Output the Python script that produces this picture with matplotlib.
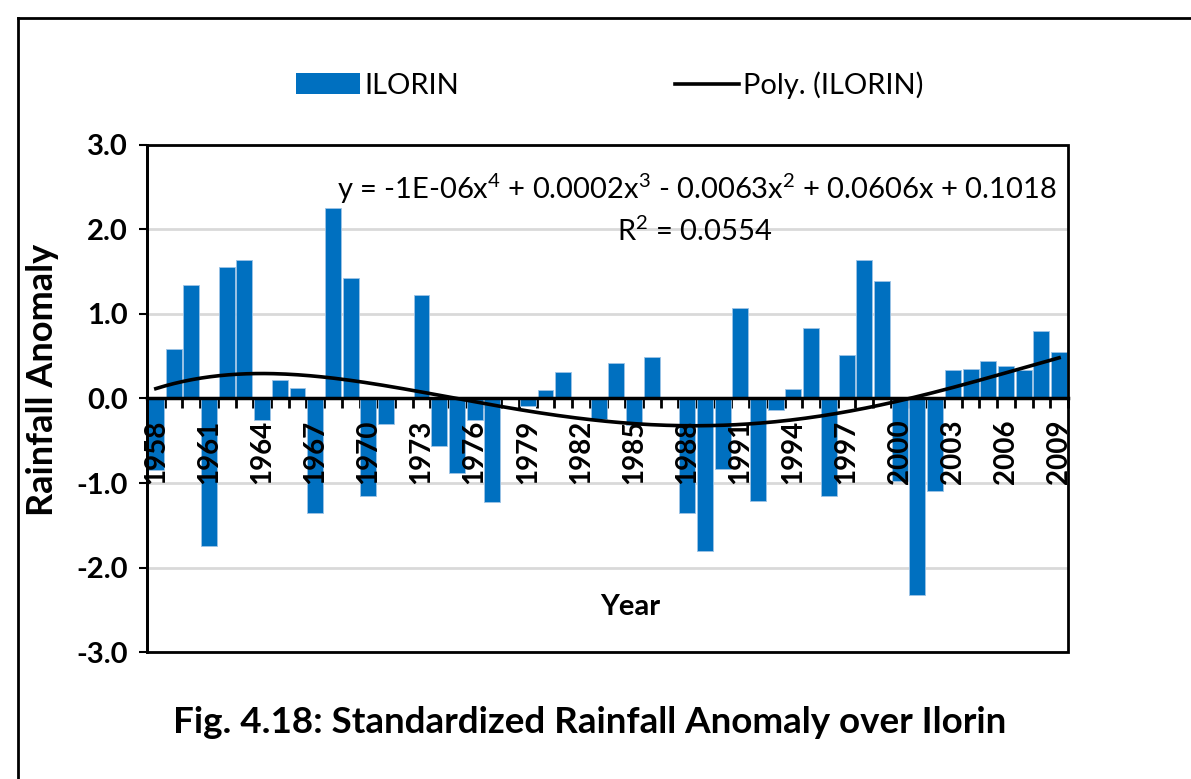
import numpy as np
import matplotlib
matplotlib.use("Agg")
import matplotlib.pyplot as plt
from matplotlib.patches import Patch, Rectangle
from matplotlib.lines import Line2D

plt.rcParams['font.family'] = ['Lato', 'DejaVu Sans']
plt.rcParams['mathtext.fontset'] = 'custom'
plt.rcParams['mathtext.rm'] = 'Lato'
plt.rcParams['mathtext.it'] = 'Lato'

# Standardized rainfall anomaly, Ilorin
years = list(range(1958, 2010))
anomaly = [
    -0.85, 0.58, 1.34, -1.75, 1.56, 1.64, -0.25, 0.22, 0.12, -1.35,
    2.25, 1.43, -1.15, -0.30, 0.01, 1.23, -0.56, -0.88, -0.25, -1.22,
    0.00, -0.09, 0.10, 0.31, 0.00, -0.24, 0.42, -0.31, 0.49, 0.00,
    -1.35, -1.80, -0.83, 1.07, -1.21, -0.14, 0.11, 0.84, -1.15, 0.51,
    1.64, 1.39, -0.98, -2.32, -1.10, 0.34, 0.35, 0.44, 0.38, 0.34,
    0.80, 0.55,
]
yticks = [-3.0, -2.0, -1.0, 0.0, 1.0, 2.0, 3.0]
label_years = years[::3]

bar_color = '#0070C0'

fig = plt.figure(figsize=(11.91, 7.79), dpi=100)
ax = fig.add_axes([0.1234, 0.163, 0.7733, 0.6509])

x = np.arange(len(years))
ax.bar(x, anomaly, width=0.9, color=bar_color, edgecolor='#9DC3E6',
       linewidth=0.6, zorder=2)

# 4th order polynomial trend on the series index (1..n)
t = x + 1
coef = np.polyfit(t, anomaly, 4)
tt = np.linspace(t[0], t[-1], 300)
ax.plot(tt - 1, np.polyval(coef, tt), color='black', lw=2.6, zorder=4)

ax.set_xlim(-0.5, len(years) - 0.5)
ax.set_ylim(-3, 3)
ax.set_yticks(yticks)
ax.set_yticklabels([f"{v:.1f}" for v in yticks], fontsize=21, fontweight='bold')
ax.yaxis.grid(True, color='#d9d9d9', lw=2, zorder=0)
ax.set_axisbelow(True)
ax.tick_params(axis='y', direction='out', length=6, width=1.5, pad=8)

# category axis sits on the zero line
ax.spines['bottom'].set_position(('data', 0))
ax.spines['bottom'].set_linewidth(2.5)
ax.spines['bottom'].set_zorder(5)
ax.spines['left'].set_linewidth(2)
ax.spines['top'].set_visible(False)
ax.spines['right'].set_visible(False)
ax.add_patch(Rectangle((0, 0), 1, 1, transform=ax.transAxes, fill=False,
                       lw=2, edgecolor='black', clip_on=False, zorder=6))

ax.set_xticks(np.arange(len(years) + 1) - 0.5)
ax.set_xticklabels([])
ax.tick_params(axis='x', which='major', direction='out', length=7, width=2)

# year labels drawn over the bars
for yr in label_years:
    ax.text(years.index(yr), -0.25, str(yr), rotation=90, ha='center',
            va='top', fontsize=20, fontweight='bold', zorder=7)

ax.text(0.525, 0.089, 'Year', transform=ax.transAxes, ha='center',
        va='center', fontsize=21, fontweight='bold')
fig.text(0.036, 0.512, 'Rainfall Anomaly', rotation=90, ha='center',
         va='center', fontsize=26, fontweight='bold')

fig.text(0.585, 0.757,
         r'y = -1E-06x$^4$ + 0.0002x$^3$ - 0.0063x$^2$ + 0.0606x + 0.1018',
         ha='center', va='center', fontsize=21)
fig.text(0.583, 0.703, r'R$^2$ = 0.0554', ha='center', va='center',
         fontsize=21)

handles = [Patch(facecolor=bar_color), Line2D([], [], color='black', lw=2.6)]
fig.legend(handles, ['ILORIN', 'Poly. (ILORIN)'], loc='center',
           bbox_to_anchor=(0.512, 0.891), ncol=2, frameon=False, fontsize=21,
           handlelength=2.2, handletextpad=0.15, columnspacing=7.4)

fig.text(0.495, 0.073, 'Fig. 4.18: Standardized Rainfall Anomaly over Ilorin',
         ha='center', va='center', fontsize=26.5, fontweight='bold')

# outer frame, left and top edges
fig.add_artist(Line2D([0.0151, 0.0151], [0, 0.977], color='black', lw=2))
fig.add_artist(Line2D([0.0151, 1], [0.977, 0.977], color='black', lw=2))

fig.savefig('out.png', dpi=100)
